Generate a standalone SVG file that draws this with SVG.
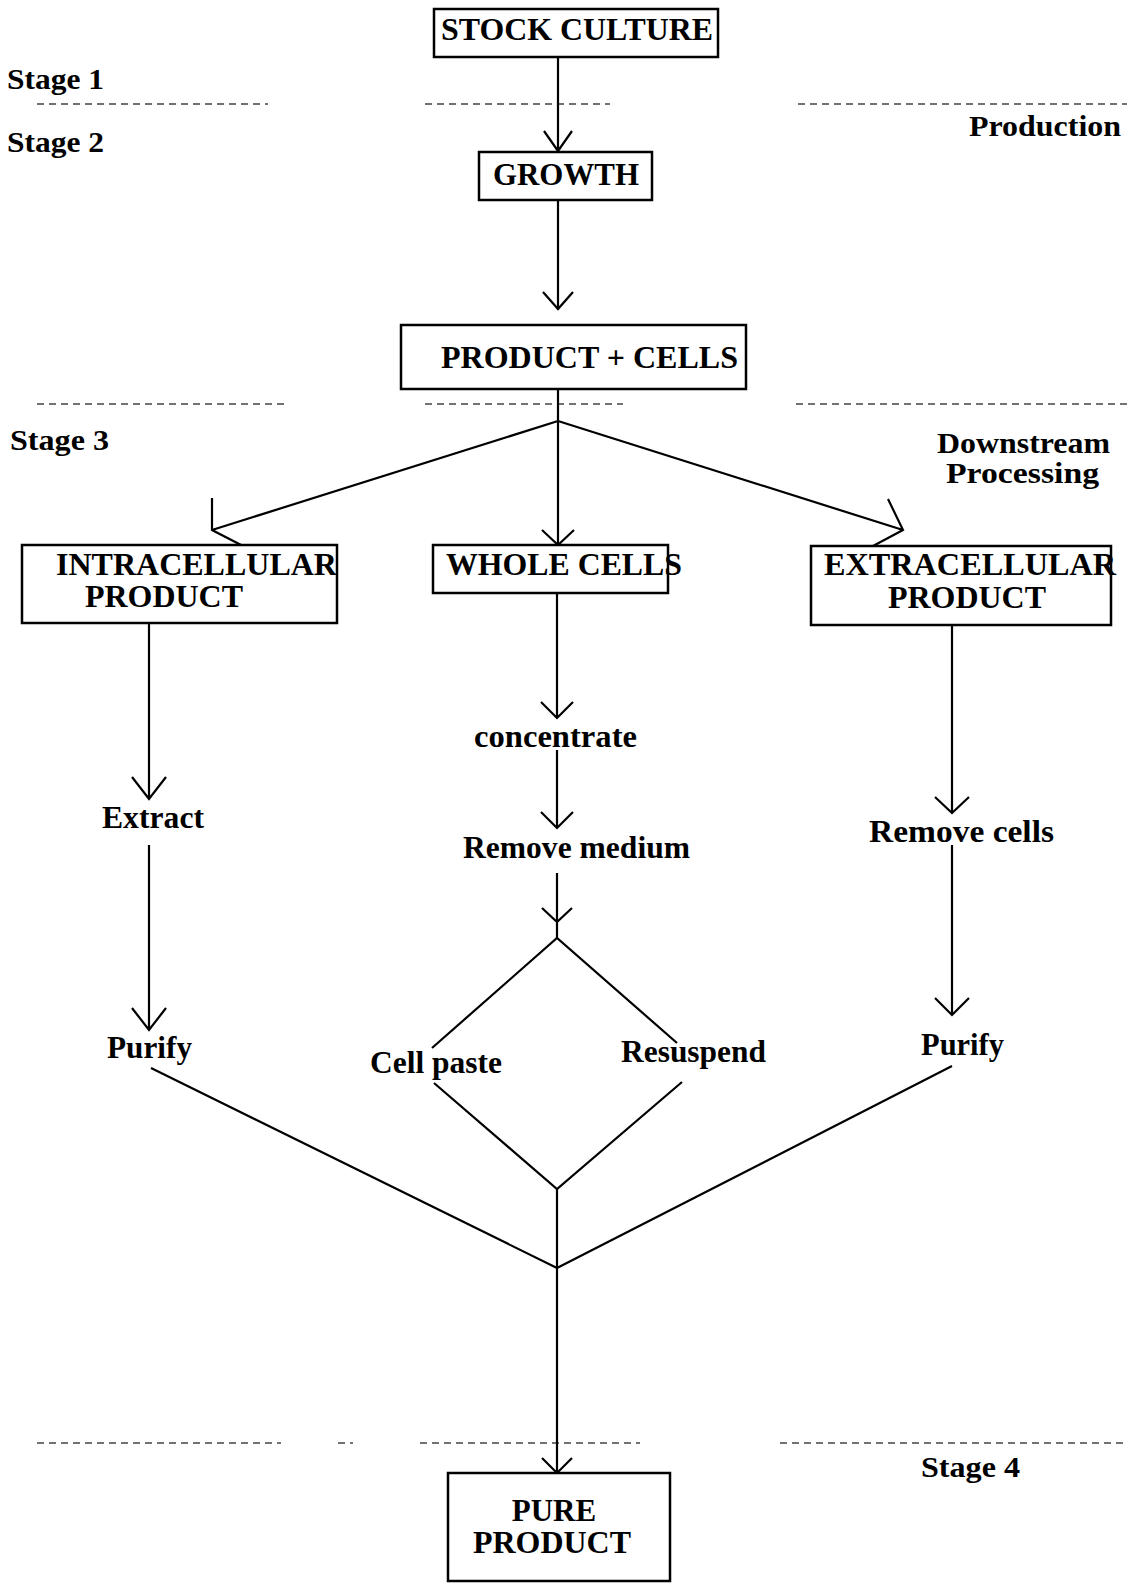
<svg xmlns="http://www.w3.org/2000/svg" width="1127" height="1583" viewBox="0 0 1127 1583">
<style>
.box{fill:#fff;stroke:#000;stroke-width:2.5}
.ln{fill:none;stroke:#000;stroke-width:2.2}
.dash{fill:none;stroke:#444;stroke-width:1.5;stroke-dasharray:7 5}
text{font-family:"Liberation Serif","Times New Roman",serif;font-weight:bold;fill:#000}
.t{font-size:31px}
.s{font-size:29px}
</style>
<rect width="1127" height="1583" fill="#fff"/>
<g id="dividers">
<path class="dash" d="M37 104H268M425 104H610M798 104H1127"/>
<path class="dash" d="M37 404H284M425 404H623M796 404H1127"/>
<path class="dash" d="M37 1443H281M338 1443H353M420 1443H640M780 1443H1127"/>
</g>
<g id="stage-labels">
<text class="s" x="7" y="89" textLength="97" lengthAdjust="spacingAndGlyphs">Stage 1</text>
<text class="s" x="7" y="152" textLength="97" lengthAdjust="spacingAndGlyphs">Stage 2</text>
<text class="s" x="969" y="136" textLength="152" lengthAdjust="spacingAndGlyphs">Production</text>
<text class="s" x="10" y="450" textLength="99" lengthAdjust="spacingAndGlyphs">Stage 3</text>
<text class="s" x="937" y="453" textLength="173" lengthAdjust="spacingAndGlyphs">Downstream</text>
<text class="s" x="946" y="483" textLength="153" lengthAdjust="spacingAndGlyphs">Processing</text>
<text class="s" x="921" y="1477" textLength="99" lengthAdjust="spacingAndGlyphs">Stage 4</text>
</g>
<g id="connectors">
<path class="ln" d="M558 57V151M544 131L558 151L572 131"/>
<path class="ln" d="M558 200V309M543 292L558 309L573 292"/>
<path class="ln" d="M558 389V545M542 530L558 545L574 530"/>
<path class="ln" d="M558 421L212 530M212 498V530L243 546"/>
<path class="ln" d="M558 421L903 530M888 499L903 530L873 546"/>
<path class="ln" d="M149 623V799M132 777L149 799L166 777"/>
<path class="ln" d="M149 845V1030M132 1008L149 1030L166 1008"/>
<path class="ln" d="M557 593V718M541 702L557 718L573 702"/>
<path class="ln" d="M557 750V828M541 812L557 828L573 812"/>
<path class="ln" d="M557 873V938M542 908L557 922L572 908"/>
<path class="ln" d="M432 1048L557 938L677 1043"/>
<path class="ln" d="M434 1083L557 1189L682 1082"/>
<path class="ln" d="M557 1189V1473M542 1458L557 1473L572 1458"/>
<path class="ln" d="M151 1068L557 1268L952 1066"/>
<path class="ln" d="M952 625V813M935 797L952 813L969 797"/>
<path class="ln" d="M952 845V1015M935 998L952 1015L969 998"/>
</g>
<g id="stock-culture">
<rect class="box" x="434" y="9" width="284" height="48"/>
<text class="t" x="441" y="40" textLength="272" lengthAdjust="spacingAndGlyphs">STOCK CULTURE</text>
</g>
<g id="growth">
<rect class="box" x="479" y="152" width="173" height="48"/>
<text class="t" x="493" y="185" textLength="146" lengthAdjust="spacingAndGlyphs">GROWTH</text>
</g>
<g id="product-cells">
<rect class="box" x="401" y="325" width="345" height="64"/>
<text class="t" x="441" y="368" textLength="297" lengthAdjust="spacingAndGlyphs">PRODUCT + CELLS</text>
</g>
<g id="intracellular">
<rect class="box" x="22" y="545" width="315" height="78"/>
<text class="t" x="56" y="575" textLength="281" lengthAdjust="spacingAndGlyphs">INTRACELLULAR</text>
<text class="t" x="85" y="607" textLength="158" lengthAdjust="spacingAndGlyphs">PRODUCT</text>
</g>
<g id="whole-cells">
<rect class="box" x="433" y="545" width="235" height="48"/>
<text class="t" x="446" y="575" textLength="236" lengthAdjust="spacingAndGlyphs">WHOLE CELLS</text>
</g>
<g id="extracellular">
<rect class="box" x="811" y="546" width="300" height="79"/>
<text class="t" x="824" y="575" textLength="292" lengthAdjust="spacingAndGlyphs">EXTRACELLULAR</text>
<text class="t" x="888" y="608" textLength="158" lengthAdjust="spacingAndGlyphs">PRODUCT</text>
</g>
<g id="extract"><text class="t" x="102" y="828" textLength="102" lengthAdjust="spacingAndGlyphs">Extract</text></g>
<g id="purify-left"><text class="t" x="107" y="1058" textLength="85" lengthAdjust="spacingAndGlyphs">Purify</text></g>
<g id="concentrate"><text class="t" x="474" y="747" textLength="163" lengthAdjust="spacingAndGlyphs">concentrate</text></g>
<g id="remove-medium"><text class="t" x="463" y="858" textLength="227" lengthAdjust="spacingAndGlyphs">Remove medium</text></g>
<g id="cell-paste"><text class="t" x="370" y="1073" textLength="132" lengthAdjust="spacingAndGlyphs">Cell paste</text></g>
<g id="resuspend"><text class="t" x="621" y="1062" textLength="145" lengthAdjust="spacingAndGlyphs">Resuspend</text></g>
<g id="remove-cells"><text class="t" x="869" y="842" textLength="185" lengthAdjust="spacingAndGlyphs">Remove cells</text></g>
<g id="purify-right"><text class="t" x="921" y="1055" textLength="83" lengthAdjust="spacingAndGlyphs">Purify</text></g>
<g id="pure-product">
<rect class="box" x="448" y="1473" width="222" height="108"/>
<text class="t" x="554" y="1521" text-anchor="middle">PURE</text>
<text class="t" x="552" y="1553" text-anchor="middle" textLength="158" lengthAdjust="spacingAndGlyphs">PRODUCT</text>
</g>
</svg>
